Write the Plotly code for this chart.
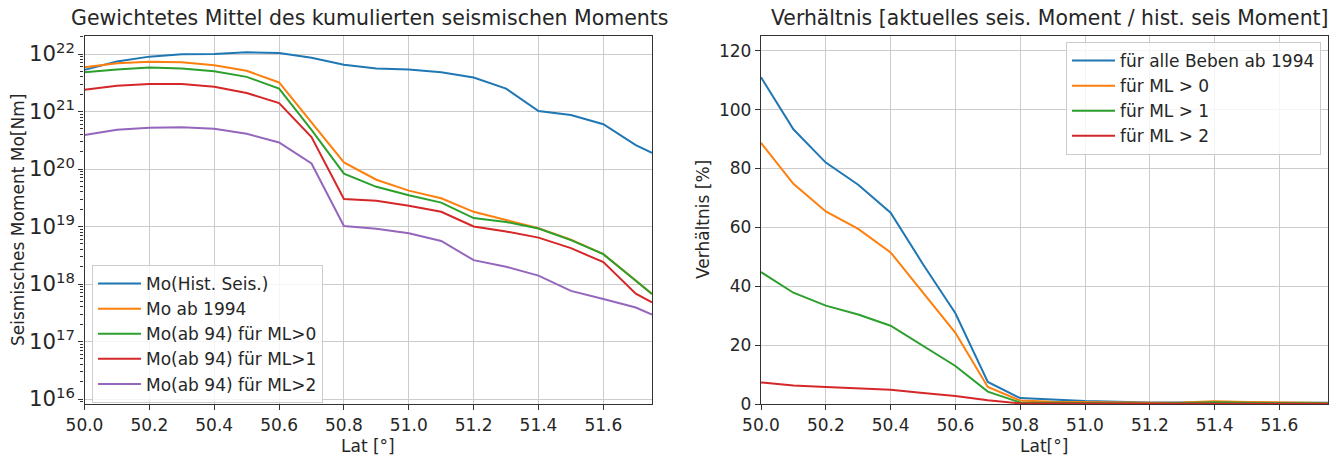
import plotly.graph_objects as go

lat = [50.0, 50.1, 50.2, 50.3, 50.4, 50.5, 50.6, 50.7, 50.8, 50.9,
       51.0, 51.1, 51.2, 51.3, 51.4, 51.5, 51.6, 51.7, 51.75]

mo_hist = [5.3e21, 7.4e21, 9.0e21, 9.9e21, 1.0e22, 1.07e22, 1.04e22, 8.6e21, 6.5e21, 5.6e21,
           5.4e21, 4.8e21, 3.9e21, 2.5e21, 1.02e21, 8.7e20, 6.0e20, 2.6e20, 1.9e20]
mo_1994 = [5.9e21, 6.9e21, 7.3e21, 7.2e21, 6.4e21, 5.1e21, 3.2e21, 6.3e20, 1.3e20, 6.5e19,
           4.2e19, 3.1e19, 1.8e19, 1.3e19, 9.3e18, 5.9e18, 3.3e18, 1.15e18, 6.7e17]
mo_ml0 = [4.8e21, 5.4e21, 5.8e21, 5.6e21, 5.0e21, 4.0e21, 2.5e21, 4.8e20, 8.3e19, 4.9e19,
          3.5e19, 2.6e19, 1.4e19, 1.2e19, 9.2e18, 5.8e18, 3.3e18, 1.15e18, 6.7e17]
mo_ml1 = [2.4e21, 2.8e21, 3.0e21, 3.0e21, 2.7e21, 2.1e21, 1.4e21, 3.6e20, 3.0e19, 2.8e19,
          2.3e19, 1.8e19, 1.0e19, 8.2e18, 6.4e18, 4.2e18, 2.4e18, 6.8e17, 4.8e17]
mo_ml2 = [3.9e20, 4.8e20, 5.2e20, 5.3e20, 5.0e20, 4.1e20, 2.9e20, 1.25e20, 1.02e19, 9.1e18,
          7.6e18, 5.6e18, 2.6e18, 2.0e18, 1.4e18, 7.6e17, 5.5e17, 3.9e17, 2.95e17]

r_all = [111.0, 93.3, 82.0, 74.5, 65.0, 47.5, 30.8, 7.5, 2.0, 1.4,
         1.0, 0.8, 0.5, 0.5, 0.6, 0.5, 0.4, 0.4, 0.4]
r_ml0 = [88.7, 74.8, 65.4, 59.5, 51.5, 38.0, 24.2, 5.8, 1.2, 0.8,
         0.6, 0.5, 0.4, 0.5, 0.9, 0.7, 0.5, 0.4, 0.35]
r_ml1 = [44.8, 37.8, 33.4, 30.4, 26.6, 19.8, 12.9, 4.2, 0.5, 0.4,
         0.3, 0.3, 0.2, 0.3, 0.6, 0.4, 0.3, 0.3, 0.25]
r_ml2 = [7.3, 6.3, 5.8, 5.3, 4.8, 3.7, 2.7, 1.3, 0.2, 0.15,
         0.1, 0.1, 0.1, 0.1, 0.1, 0.1, 0.1, 0.1, 0.1]

left_names = ["Mo(Hist. Seis.)", "Mo ab 1994", "Mo(ab 94) für ML>0",
              "Mo(ab 94) für ML>1", "Mo(ab 94) für ML>2"]
right_names = ["für alle Beben ab 1994", "für ML > 0", "für ML > 1", "für ML > 2"]
colors = ["#1f77b4", "#ff7f0e", "#2ca02c", "#d62728", "#9467bd"]

x_ticks = [50.0, 50.2, 50.4, 50.6, 50.8, 51.0, 51.2, 51.4, 51.6]
x_ticklabels = ["50.0", "50.2", "50.4", "50.6", "50.8", "51.0", "51.2", "51.4", "51.6"]
r_ticks = [0, 20, 40, 60, 80, 100, 120]

FONT = "DejaVu Sans"
TXT = "#262626"
W, H = 1338, 459

fig = go.Figure()
for name, ys, c in zip(left_names, [mo_hist, mo_1994, mo_ml0, mo_ml1, mo_ml2], colors):
    fig.add_trace(go.Scatter(x=lat, y=ys, name=name, mode="lines",
                             line=dict(color=c, width=2), xaxis="x", yaxis="y",
                             legend="legend"))
for name, ys, c in zip(right_names, [r_all, r_ml0, r_ml1, r_ml2], colors):
    fig.add_trace(go.Scatter(x=lat, y=ys, name=name, mode="lines",
                             line=dict(color=c, width=2), xaxis="x2", yaxis="y2",
                             legend="legend2"))

def px_x(p):
    return p / W

def px_y(p):
    return (H - p) / H

axis_common = dict(showline=True, linecolor="#333333", linewidth=1.3, mirror=True,
                   ticks="outside", ticklen=5, tickwidth=1.2, tickcolor="#333333",
                   showgrid=True, gridcolor="#cccccc", gridwidth=1.3,
                   zeroline=False, automargin=False,
                   tickfont=dict(family=FONT, size=17, color=TXT))

ydom = [px_y(404), px_y(36)]

fig.update_layout(
    width=W, height=H,
    margin=dict(l=0, r=0, t=0, b=0),
    paper_bgcolor="white", plot_bgcolor="white",
    font=dict(family=FONT, size=17, color=TXT),
    xaxis=dict(domain=[px_x(84.5), px_x(652)], range=[50.0, 51.75],
               tickvals=x_ticks, ticktext=x_ticklabels, anchor="y", **axis_common),
    yaxis=dict(domain=ydom, type="log", range=[15.913, 22.313], dtick=1,
               exponentformat="power", anchor="x",
               minor=dict(ticks="outside", ticklen=3, tickcolor="#333333", dtick="D1",
                          showgrid=False),
               **axis_common),
    xaxis2=dict(domain=[px_x(761), px_x(1328)], range=[50.0, 51.75],
                tickvals=x_ticks, ticktext=x_ticklabels, anchor="y2", **axis_common),
    yaxis2=dict(domain=ydom, range=[0, 125], tickvals=r_ticks, anchor="x2", **axis_common),
    legend=dict(x=px_x(92), y=px_y(265), xanchor="left", yanchor="top",
                bgcolor="rgba(255,255,255,0.8)", bordercolor="#cccccc", borderwidth=1,
                font=dict(family=FONT, size=17, color=TXT), itemwidth=43),
    legend2=dict(x=px_x(1066), y=px_y(42), xanchor="left", yanchor="top",
                 bgcolor="rgba(255,255,255,0.8)", bordercolor="#cccccc", borderwidth=1,
                 font=dict(family=FONT, size=17, color=TXT), itemwidth=43),
    showlegend=True,
)

annos = [
    dict(text="Gewichtetes Mittel des kumulierten seismischen Moments",
         x=px_x(370), y=px_y(18), size=20.5),
    dict(text="Verhältnis [aktuelles seis. Moment / hist. seis Moment]",
         x=px_x(1050), y=px_y(18), size=20.4),
    dict(text="Lat [°]", x=px_x(368), y=px_y(446), size=17),
    dict(text="Lat[°]", x=px_x(1044), y=px_y(446), size=17),
    dict(text="Seismisches Moment Mo[Nm]", x=px_x(18), y=px_y(220), angle=-90, size=17),
    dict(text="Verhältnis [%]", x=px_x(703), y=px_y(220), angle=-90, size=17),
]
for a in annos:
    fig.add_annotation(xref="paper", yref="paper", showarrow=False,
                       xanchor="center", yanchor="middle",
                       x=a["x"], y=a["y"], text=a["text"],
                       textangle=a.get("angle", 0),
                       font=dict(family=FONT, color=TXT, size=a["size"]))

fig.write_html("out.html",
               config={"displayModeBar": False},
               post_script="document.body.style.margin='0';document.body.style.overflow='hidden';")
